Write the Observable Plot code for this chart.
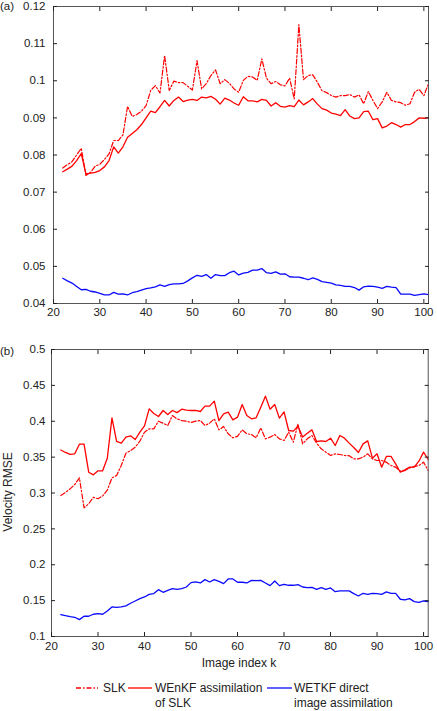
<!DOCTYPE html>
<html><head><meta charset="utf-8">
<script src="https://cdn.jsdelivr.net/npm/d3@7"></script>
<script src="https://cdn.jsdelivr.net/npm/@observablehq/plot@0.6"></script>
<style>
body{margin:0;background:#fff;}
#wrap{position:relative;width:437px;height:711px;overflow:hidden;font-family:"Liberation Sans",Arial,sans-serif;color:#222;}
#wrap svg{position:absolute;left:0;}
.lbl{position:absolute;font-size:11.5px;line-height:1;white-space:nowrap;}
.leg{position:absolute;font-size:12px;line-height:14.5px;white-space:nowrap;}
</style></head><body><div id="wrap"></div>
<script>
const K = [22,23,24,25,26,27,28,29,30,31,32,33,34,35,36,37,38,39,40,41,42,43,44,45,46,47,48,49,50,51,52,53,54,55,56,57,58,59,60,61,
62,63,64,65,66,67,68,69,70,71,72,73,74,75,76,77,78,79,80,81,82,83,84,85,86,87,88,89,90,91,92,93,94,95,96,97,98,99,100,101];

// Panel (a)
const slkA = [0.0765,0.0774,0.0782,0.0800,0.0818,0.0745,0.0753,0.0770,0.0775,0.0788,0.0803,0.0839,0.0839,0.0854,0.0931,0.0904,0.0909,0.0918,0.0933,0.0974,
0.0987,0.0967,0.1068,0.0974,0.0999,0.0995,0.0995,0.0985,0.0975,0.1054,0.0978,0.0992,0.1014,0.1029,0.0992,0.1003,0.0993,0.0978,0.0969,0.1001,
0.1012,0.1010,0.1001,0.1059,0.1007,0.0992,0.0998,0.0989,0.0986,0.1007,0.0951,0.1151,0.1003,0.1014,0.1016,0.0996,0.0973,0.0968,0.0960,0.0956,
0.0960,0.0960,0.0963,0.0956,0.0962,0.0938,0.0971,0.0947,0.0925,0.0943,0.0969,0.0947,0.0943,0.0941,0.0934,0.0938,0.0969,0.0977,0.0960,0.0992];
const wenkfA = [0.0755,0.0762,0.0770,0.0785,0.0804,0.0749,0.0751,0.0753,0.0758,0.0768,0.0785,0.0822,0.0805,0.0822,0.0848,0.0858,0.0868,0.0882,0.0900,0.0918,
0.0914,0.0930,0.0947,0.0932,0.0947,0.0956,0.0944,0.0948,0.0950,0.0947,0.0956,0.0954,0.0958,0.0950,0.0937,0.0953,0.0948,0.0940,0.0934,0.0957,
0.0946,0.0946,0.0943,0.0950,0.0947,0.0932,0.0941,0.0931,0.0929,0.0933,0.0930,0.0948,0.0935,0.0943,0.0952,0.0937,0.0925,0.0921,0.0913,0.0910,
0.0906,0.0922,0.0905,0.0898,0.0900,0.0917,0.0918,0.0895,0.0898,0.0873,0.0878,0.0887,0.0882,0.0875,0.0882,0.0882,0.0890,0.0900,0.0899,0.0900];
const wetkfA = [0.0468,0.0461,0.0455,0.0446,0.0437,0.0438,0.0433,0.0431,0.0427,0.0423,0.0423,0.0430,0.0425,0.0426,0.0423,0.0429,0.0432,0.0436,0.0440,0.0442,
0.0445,0.0450,0.0446,0.0451,0.0453,0.0453,0.0454,0.0461,0.0469,0.0476,0.0473,0.0478,0.0468,0.0478,0.0475,0.0475,0.0483,0.0487,0.0477,0.0482,
0.0484,0.0490,0.0490,0.0494,0.0483,0.0481,0.0485,0.0479,0.0480,0.0472,0.0471,0.0471,0.0468,0.0464,0.0469,0.0465,0.0459,0.0457,0.0455,0.0450,
0.0449,0.0446,0.0446,0.0443,0.0436,0.0445,0.0447,0.0446,0.0444,0.0441,0.0446,0.0444,0.0443,0.0425,0.0425,0.0425,0.0422,0.0424,0.0426,0.0424];

// Panel (b)
const slkB = [0.2965,0.3007,0.3058,0.3118,0.3211,0.2794,0.2850,0.2940,0.2920,0.2960,0.3040,0.3210,0.3244,0.3383,0.3555,0.3592,0.3638,0.3722,0.3848,0.3894,
0.3894,0.4001,0.3973,0.3941,0.4080,0.4034,0.4010,0.4001,0.3983,0.4001,0.4010,0.3941,0.3973,0.4034,0.3880,0.3927,0.3825,0.3769,0.3790,0.3880,
0.3825,0.3815,0.3769,0.3908,0.3755,0.3778,0.3815,0.3755,0.3732,0.3848,0.3708,0.3964,0.3685,0.3755,0.3801,0.3695,0.3616,0.3569,0.3523,0.3546,
0.3537,0.3523,0.3520,0.3476,0.3476,0.3500,0.3546,0.3476,0.3453,0.3453,0.3430,0.3383,0.3360,0.3305,0.3313,0.3350,0.3370,0.3383,0.3430,0.3313];
const wenkfB = [0.3600,0.3565,0.3537,0.3546,0.3680,0.3680,0.3290,0.3253,0.3309,0.3310,0.3485,0.4048,0.3718,0.3695,0.3780,0.3797,0.3746,0.3848,0.3936,0.4173,
0.4108,0.4066,0.4150,0.4094,0.4150,0.4120,0.4168,0.4154,0.4150,0.4150,0.4136,0.4210,0.4210,0.4280,0.4010,0.4103,0.4126,0.4020,0.4057,0.4233,
0.4080,0.4034,0.4048,0.4196,0.4350,0.4168,0.4233,0.4043,0.4131,0.3871,0.3862,0.3931,0.3780,0.3834,0.3880,0.3718,0.3727,0.3718,0.3764,0.3662,
0.3801,0.3764,0.3695,0.3634,0.3565,0.3685,0.3727,0.3485,0.3546,0.3360,0.3510,0.3510,0.3406,0.3290,0.3323,0.3360,0.3360,0.3443,0.3570,0.3467];
const wetkfB = [0.1305,0.1291,0.1277,0.1268,0.1235,0.1282,0.1282,0.1310,0.1319,0.1310,0.1356,0.1412,0.1407,0.1412,0.1426,0.1463,0.1495,0.1528,0.1551,0.1588,
0.1598,0.1653,0.1616,0.1644,0.1667,0.1658,0.1667,0.1690,0.1751,0.1760,0.1746,0.1793,0.1760,0.1793,0.1769,0.1737,0.1802,0.1802,0.1756,0.1756,
0.1746,0.1783,0.1779,0.1783,0.1746,0.1709,0.1774,0.1709,0.1728,0.1714,0.1714,0.1723,0.1690,0.1681,0.1686,0.1658,0.1681,0.1658,0.1677,0.1625,
0.1635,0.1635,0.1635,0.1598,0.1565,0.1602,0.1588,0.1602,0.1598,0.1588,0.1621,0.1602,0.1602,0.1519,0.1509,0.1528,0.1486,0.1477,0.1495,0.1486];

const xTicks = [20,30,40,50,60,70,80,90,100];
const yTicksA = [0.04,0.05,0.06,0.07,0.08,0.09,0.1,0.11,0.12];
const yTicksB = [0.1,0.15,0.2,0.25,0.3,0.35,0.4,0.45,0.5];

const seriesNames = ["SLK","WEnKF assimilation of SLK","WETKF direct image assimilation"];
const RED = "#ff0000", BLUE = "#0a0aff";

function rows(s1, s2, s3) {
  return K.map((k,i)=>({k, slk:s1[i], wenkf:s2[i], wetkf:s3[i]}));
}

function panel({data, yDomain, yTicks, height, mt, mb, ml, mr, ypad, xpad}) {
  return Plot.plot({
    width: 437, height,
    marginTop: mt, marginBottom: mb, marginLeft: ml, marginRight: mr,
    style: {fontFamily: "Liberation Sans, Arial, sans-serif", fontSize: "11.5px", color: "#222", background: "white", overflow: "visible"},
    x: {domain: [20, 101]},
    y: {domain: yDomain},
    marks: [
      Plot.line(data, {x: "k", y: "slk", stroke: RED, strokeWidth: 1.2, strokeDasharray: "5,2,1.5,2"}),
      Plot.line(data, {x: "k", y: "wenkf", stroke: RED, strokeWidth: 1.3}),
      Plot.line(data, {x: "k", y: "wetkf", stroke: BLUE, strokeWidth: 1.3}),
      Plot.frame({stroke: "#555", strokeWidth: 1}),
      Plot.axisX({anchor: "bottom", ticks: xTicks, tickSize: -4, tickPadding: xpad, label: null, tickFormat: d => String(d)}),
      Plot.axisX({anchor: "top", ticks: xTicks, tickSize: -4, label: null, tickFormat: () => ""}),
      Plot.axisY({anchor: "left", ticks: yTicks, tickSize: -4, tickPadding: ypad, label: null, tickFormat: d => String(d)}),
      Plot.axisY({anchor: "right", ticks: yTicks, tickSize: -4, label: null, tickFormat: () => ""})
    ]
  });
}

const wrap = document.getElementById("wrap");
const pa = panel({data: rows(slkA, wenkfA, wetkfA), yDomain: [0.04, 0.12], yTicks: yTicksA,
  height: 325, mt: 6, mb: 22, ml: 53, mr: 9, ypad: 12, xpad: 8});
pa.style.top = "0px";
wrap.appendChild(pa);
const pb = panel({data: rows(slkB, wenkfB, wetkfB), yDomain: [0.1, 0.5], yTicks: yTicksB,
  height: 347, mt: 24, mb: 36, ml: 51, mr: 9.3, ypad: 10, xpad: 9});
pb.style.top = "325px";
wrap.appendChild(pb);

function addDiv(cls, html, css) {
  const d = document.createElement("div");
  d.className = cls; d.innerHTML = html;
  Object.assign(d.style, css);
  wrap.appendChild(d);
  return d;
}
addDiv("lbl", "(a)", {left: "0px", top: "1px"});
addDiv("lbl", "(b)", {left: "0px", top: "346px"});
addDiv("lbl", "Velocity RMSE", {left: "8px", top: "492px", fontSize: "12px", transform: "translate(-50%,-50%) rotate(-90deg)"});
addDiv("lbl", "Image index k", {left: "239px", top: "663px", fontSize: "12px", transform: "translate(-50%,-50%)"});

// Legend
const ns = "http://www.w3.org/2000/svg";
const sw = document.createElementNS(ns, "svg");
sw.setAttribute("width", 437); sw.setAttribute("height", 20);
sw.style.top = "678px";
const swatches = [
  {x1: 76, x2: 98, color: RED, dash: "5,2,1.5,2"},
  {x1: 128, x2: 152, color: RED, dash: null},
  {x1: 267, x2: 292, color: BLUE, dash: null}
];
swatches.forEach(s => {
  const l = document.createElementNS(ns, "line");
  l.setAttribute("x1", s.x1); l.setAttribute("x2", s.x2);
  l.setAttribute("y1", 10); l.setAttribute("y2", 10);
  l.setAttribute("stroke", s.color); l.setAttribute("stroke-width", 1.3);
  if (s.dash) l.setAttribute("stroke-dasharray", s.dash);
  sw.appendChild(l);
});
wrap.appendChild(sw);
addDiv("leg", "SLK", {left: "103px", top: "681px"});
addDiv("leg", "WEnKF assimilation<br>of SLK", {left: "155px", top: "681px"});
addDiv("leg", "WETKF direct<br>image assimilation", {left: "294px", top: "681px"});
</script></body></html>
